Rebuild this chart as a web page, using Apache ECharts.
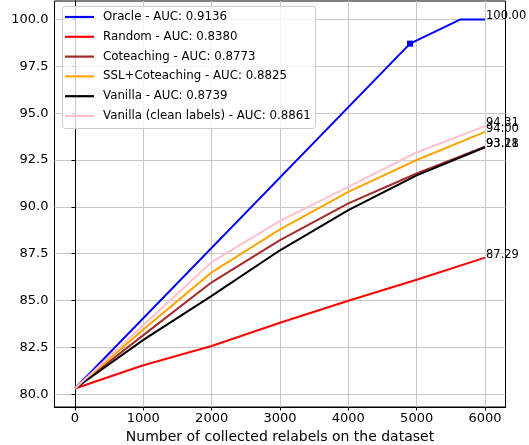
<!DOCTYPE html>
<html>
<head>
<meta charset="utf-8">
<script src="https://cdn.jsdelivr.net/npm/echarts@6/dist/echarts.min.js"></script>
<style>
  html, body { margin: 0; padding: 0; background: #fff; }
  #chart { width: 529px; height: 445px; }
</style>
</head>
<body>
<div id="chart"></div>
<script>
  // x positions (number of collected relabels)
  var steps = [0, 1000, 2000, 3000, 4000, 5000, 6000];

  // oracle has its own x positions (bend near the end)
  var oracleX = [0, 4903, 5536, 5640, 6000];
  var oracleY = [80.3, 98.71, 99.82, 100.0, 100.0];

  var randomY     = [80.3, 81.54, 82.57, 83.81, 84.99, 86.11, 87.29];
  var coteachY    = [80.3, 83.15, 85.97, 88.22, 90.18, 91.78, 93.21];
  var sslCoteachY = [80.3, 83.45, 86.50, 88.80, 90.80, 92.50, 94.00];
  var vanillaY    = [80.3, 82.90, 85.25, 87.68, 89.82, 91.68, 93.18];
  var cleanY      = [80.3, 83.68, 87.05, 89.25, 91.06, 92.90, 94.31];

  var names = [
    'Oracle - AUC: 0.9136',
    'Random - AUC: 0.8380',
    'Coteaching - AUC: 0.8773',
    'SSL+Coteaching - AUC: 0.8825',
    'Vanilla - AUC: 0.8739',
    'Vanilla (clean labels) - AUC: 0.8861'
  ];
  var colors = ['#0000ff', '#ff0000', '#a52a2a', '#ffa500', '#000000', '#ffc0cb'];

  var xTicks = [0, 1000, 2000, 3000, 4000, 5000, 6000];
  var yTicks = [80, 82.5, 85, 87.5, 90, 92.5, 95, 97.5, 100];

  var font = 'DejaVu Sans';

  function pairs(xs, ys) {
    return xs.map(function (x, i) { return [x, ys[i]]; });
  }

  var oracleData = pairs(oracleX, oracleY).map(function (p, i) {
    // a single square marker where the oracle line bends
    if (i === 1) return { value: p, symbol: 'rect', symbolSize: 6 };
    return { value: p };
  });

  var seriesData = [
    oracleData,
    pairs(steps, randomY),
    pairs(steps, coteachY),
    pairs(steps, sslCoteachY),
    pairs(steps, vanillaY),
    pairs(steps, cleanY)
  ];

  var series = seriesData.map(function (d, i) {
    return {
      name: names[i],
      type: 'line',
      data: d,
      symbol: 'none',
      showSymbol: true,
      color: colors[i],
      lineStyle: { width: 2, color: colors[i] },
      itemStyle: { color: colors[i] },
      endLabel: {
        show: true,
        formatter: function (p) { return p.value[1].toFixed(2); },
        color: '#000',
        fontFamily: font,
        fontSize: 11.5,
        distance: 0,
        align: 'left',
        verticalAlign: 'bottom',
        offset: [1, 3]
      }
    };
  });

  var myChart = echarts.init(document.getElementById('chart'));

  var option = {
    animation: false,
    textStyle: { fontFamily: font },
    grid: {
      left: 54.5, right: 23.5, top: 1, bottom: 38,
      outerBoundsMode: 'none',
      containLabel: false,
      show: true, borderColor: '#000', borderWidth: 1
    },
    legend: {
      orient: 'vertical',
      left: 62.5,
      top: 6.5,
      icon: 'rect',
      itemWidth: 29,
      itemHeight: 2.2,
      itemGap: 4.8,
      padding: [3, 5, 5, 2.5],
      backgroundColor: 'rgba(255,255,255,0.8)',
      borderColor: '#cccccc',
      borderWidth: 1,
      borderRadius: 3,
      textStyle: {
        fontFamily: font, fontSize: 11.8, color: '#000',
        lineHeight: 15, padding: [0, 0, 0, 4]
      },
      data: names
    },
    xAxis: {
      type: 'value',
      min: -300,
      max: 6300,
      name: 'Number of collected relabels on the dataset',
      nameLocation: 'middle',
      nameGap: 18,
      nameTextStyle: { fontFamily: font, fontSize: 14, color: '#000' },
      axisLine: { show: true, lineStyle: { color: '#000' } },
      axisTick: { show: true, length: 3.5, customValues: xTicks, lineStyle: { color: '#000' } },
      axisLabel: {
        customValues: xTicks, margin: 5,
        fontFamily: font, fontSize: 13, color: '#000',
        formatter: function (v) { return String(v); }
      },
      splitLine: { show: true, lineStyle: { color: '#c8c8c8', width: 1 } }
    },
    yAxis: {
      type: 'value',
      min: 79.315,
      max: 100.985,
      axisLine: { show: true, lineStyle: { color: '#000' } },
      axisTick: { show: true, length: 3.5, customValues: yTicks, lineStyle: { color: '#000' } },
      axisLabel: {
        customValues: yTicks, margin: 6,
        fontFamily: font, fontSize: 13, color: '#000',
        formatter: function (v) { return v.toFixed(1); }
      },
      splitLine: { show: true, lineStyle: { color: '#c8c8c8', width: 1 } }
    },
    series: series
  };

  myChart.setOption(option);
</script>
</body>
</html>
